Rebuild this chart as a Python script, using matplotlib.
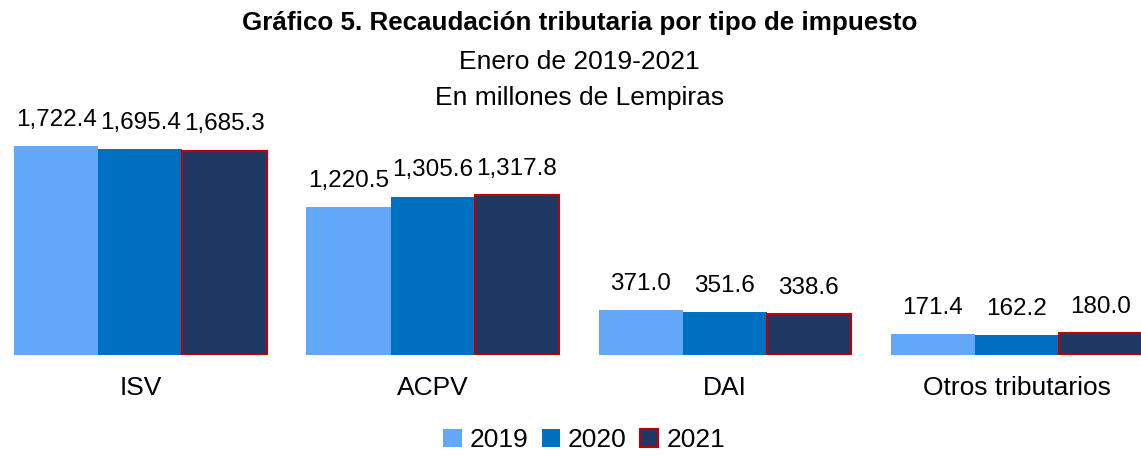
import numpy as np
import matplotlib.pyplot as plt
from matplotlib.patches import Patch

plt.rcParams['font.family'] = ['Liberation Sans Narrow', 'Liberation Sans', 'DejaVu Sans']

categorias = ['ISV', 'ACPV', 'DAI', 'Otros tributarios']
anios = ['2019', '2020', '2021']
v2019 = [1722.4, 1220.5, 371.0, 171.4]
v2020 = [1695.4, 1305.6, 351.6, 162.2]
v2021 = [1685.3, 1317.8, 338.6, 180.0]

colores = ['#63A8F8', '#0070C0', '#203864']
bordes = ['none', 'none', '#C00000']

fig = plt.figure(figsize=(11.41, 4.57), dpi=100)
ax = fig.add_axes([0, 0.2232, 1, 0.531])

x = np.arange(len(categorias))
w = 0.2877
series = [v2019, v2020, v2021]
for i, vals in enumerate(series):
    pos = x + (i - 1) * w
    ax.bar(pos, vals, w, color=colores[i], edgecolor=bordes[i],
           linewidth=1.5 if i == 2 else 0, label=anios[i])
    for p, v in zip(pos, vals):
        ax.text(p, v + 125, f'{v:,.1f}', ha='center', va='bottom', fontsize=17.5, clip_on=False)

ax.set_xlim(-0.481, 3.426)
ax.set_ylim(0, 2000)
ax.set_xticks(x)
ax.set_xticklabels(categorias, fontsize=19)
ax.tick_params(axis='x', length=0, pad=15)
ax.set_yticks([])
for s in ax.spines.values():
    s.set_visible(False)

fig.text(0.508, 0.950, 'Gráfico 5. Recaudación tributaria por tipo de impuesto',
         ha='center', va='center', fontsize=18.7, fontweight='bold')
fig.text(0.508, 0.865, 'Enero de 2019-2021', ha='center', va='center', fontsize=19)
fig.text(0.508, 0.786, 'En millones de Lempiras', ha='center', va='center', fontsize=19)

handles = [Patch(facecolor=colores[i], edgecolor=bordes[i], linewidth=1.5) for i in range(3)]
fig.legend(handles, anios, loc='center', bbox_to_anchor=(0.512, 0.037), ncol=3,
           frameon=False, fontsize=19, handlelength=0.7, handleheight=0.7,
           handletextpad=0.3, columnspacing=0.5, borderpad=0)

fig.savefig('out.png', dpi=100)
